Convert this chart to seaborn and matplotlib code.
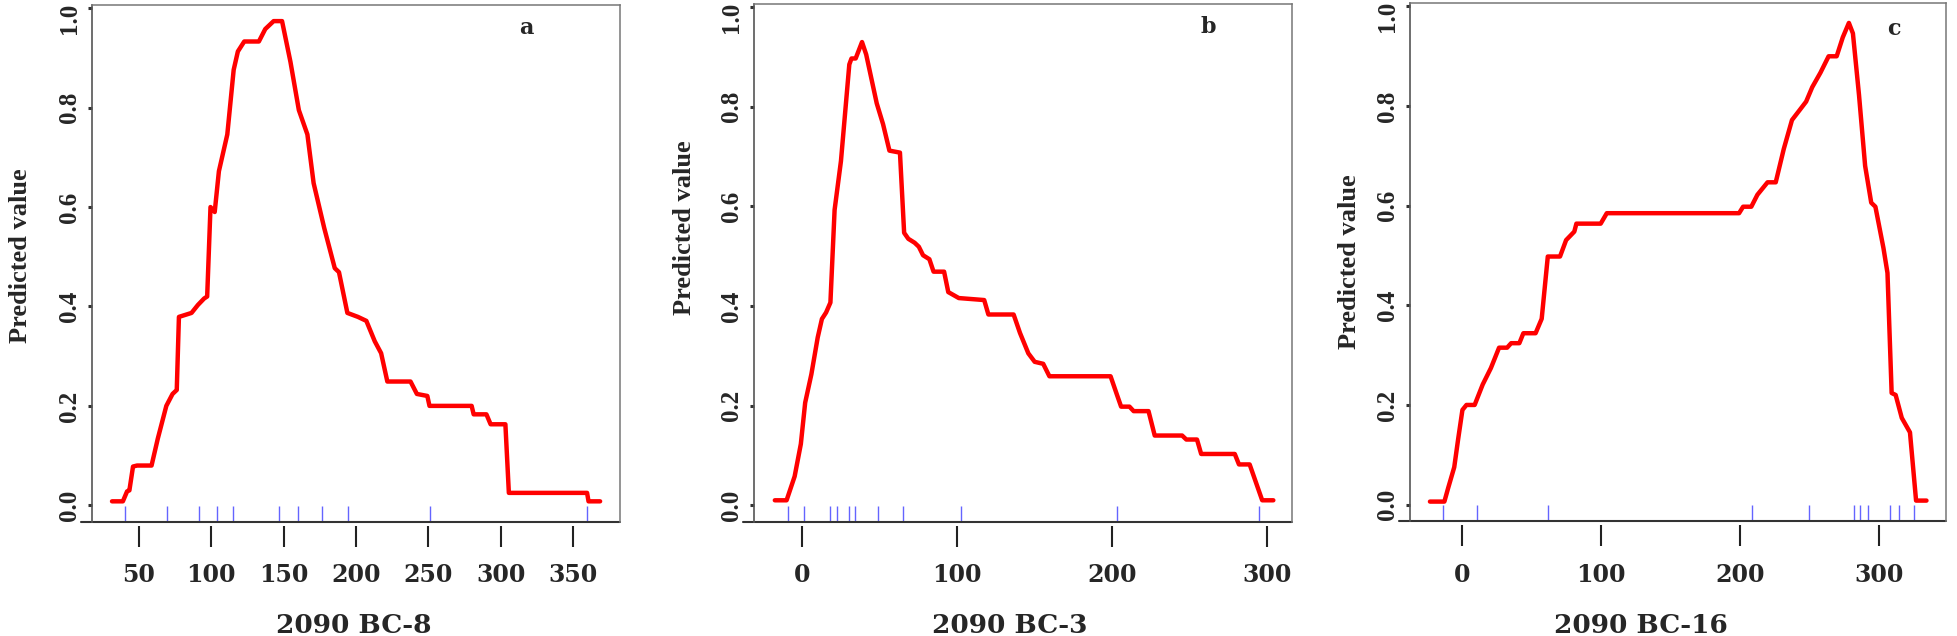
import matplotlib
matplotlib.use("Agg")
import matplotlib.pyplot as plt
import matplotlib.transforms as mtrans
import seaborn as sns

# Grafik uslubi
sns.set_theme(style="white")
plt.rcParams["font.family"] = ["Liberation Serif", "DejaVu Serif"]

# ============================================================
# MA'LUMOTLAR (rasmdan o'qilgan)
# ============================================================
# a) 2090 BC-8
a_x = [31.5, 39, 41.9, 43.5, 46, 48.8, 58.8, 63.1, 69, 73.3, 76.2, 77.7, 86.4, 90.8,
       95.1, 97.2, 99.5, 102.4, 105.3, 111.1, 115.5, 118.4, 122.8, 132.9, 137.3, 143.1,
       148.9, 154.7, 160.5, 166.4, 170.7, 178, 185.3, 188.2, 194, 201.3, 207.1, 212.9,
       217.3, 221.6, 237.6, 242, 249.2, 250.7, 279.8, 281.2, 290, 292.9, 303.1, 305.5,
       359.5, 360.5, 368.5]
a_y = [0.008, 0.008, 0.028, 0.03, 0.078, 0.08, 0.08, 0.134, 0.2, 0.224, 0.232, 0.379,
       0.387, 0.403, 0.416, 0.42, 0.6, 0.59, 0.672, 0.746, 0.876, 0.913, 0.933, 0.933,
       0.958, 0.974, 0.974, 0.892, 0.795, 0.746, 0.648, 0.558, 0.477, 0.469, 0.387,
       0.379, 0.371, 0.33, 0.306, 0.249, 0.249, 0.224, 0.22, 0.2, 0.2, 0.183, 0.183,
       0.163, 0.163, 0.025, 0.025, 0.008, 0.008]
a_rug = [40.7, 69.3, 91.6, 103.8, 115.3, 147, 159.7, 176.3, 194.7, 251.1, 359.5]
a_ticks = [50, 100, 150, 200, 250, 300, 350]

# b) 2090 BC-3
b_x = [-17.6, -10, -4.8, -0.8, 2, 6, 10.1, 12.8, 15.5, 18.3, 21, 25.1, 30.5, 31.9, 34.6,
       38.7, 41.4, 48.2, 52.3, 56.4, 63.2, 65.9, 68.6, 72.7, 75.4, 78.1, 82.2, 84.9,
       91.7, 94.4, 101.2, 117.6, 120.3, 136.6, 140.7, 146.1, 150.2, 155.7, 159.7, 199.2,
       203.3, 206, 211.4, 214.1, 223.7, 227.7, 245.4, 248.1, 255, 257.7, 279.4, 282.1,
       289, 291.7, 297.1, 304.3]
b_y = [0.01, 0.01, 0.058, 0.123, 0.206, 0.263, 0.337, 0.374, 0.387, 0.407, 0.593, 0.691,
       0.885, 0.897, 0.897, 0.93, 0.905, 0.807, 0.765, 0.712, 0.708, 0.547, 0.535, 0.527,
       0.519, 0.502, 0.494, 0.469, 0.469, 0.428, 0.416, 0.412, 0.383, 0.383, 0.346,
       0.305, 0.288, 0.284, 0.259, 0.259, 0.222, 0.198, 0.198, 0.189, 0.189, 0.14, 0.14,
       0.132, 0.132, 0.103, 0.103, 0.082, 0.082, 0.058, 0.01, 0.01]
b_rug = [-9.4, 1.2, 18, 22.3, 30.4, 34.1, 49.2, 65.3, 102.6, 203.2, 295.1]
b_ticks = [0, 100, 200, 300]

# c) 2090 BC-16
c_x = [-23.4, -13, -10.3, -5.9, -3, 0, 2.9, 8.8, 14.6, 20.5, 26.4, 32.2, 35.1, 41, 43.9,
       52.7, 57.1, 61.5, 70.3, 74.7, 80.6, 82.1, 99.6, 104, 199.3, 202.2, 208.1, 212.5,
       219.8, 225.7, 231.5, 237.4, 243.2, 247.6, 252, 257.9, 263.8, 269.6, 274, 278.4,
       281.3, 285.7, 290.1, 294.5, 297.5, 303.3, 306.2, 309.2, 312.1, 316.5, 322.4,
       326.8, 334.3]
c_y = [0.006, 0.006, 0.033, 0.075, 0.133, 0.19, 0.2, 0.2, 0.241, 0.274, 0.315, 0.315,
       0.324, 0.324, 0.344, 0.344, 0.373, 0.498, 0.498, 0.531, 0.548, 0.564, 0.564,
       0.585, 0.585, 0.598, 0.598, 0.622, 0.647, 0.647, 0.714, 0.772, 0.793, 0.809,
       0.838, 0.867, 0.9, 0.9, 0.938, 0.967, 0.946, 0.822, 0.68, 0.606, 0.598, 0.515,
       0.465, 0.224, 0.22, 0.174, 0.145, 0.008, 0.008]
c_rug = [-14.2, 10.3, 61.4, 208.8, 249.9, 282.1, 286.4, 292, 308, 314.3, 325.3]
c_ticks = [0, 100, 200, 300]

y_ticks = [0.0, 0.2, 0.4, 0.6, 0.8, 1.0]
y_labels = ["0.0", "0.2", "0.4", "0.6", "0.8", "1.0"]

# ============================================================
# PANELLAR
# ============================================================
panels = [
    # x, y, rug, ticks, xlim, xlabel, letter, rect, ylabel joyi, xlabel joyi, harf joyi
    (a_x, a_y, a_rug, a_ticks, (17.7, 382.3), "2090 BC-8", "a",
     [0.0470, 0.1797, 0.2697, 0.8129], (-0.114, 0.514), (0.496, -0.177), (0.822, 0.954)),
    (b_x, b_y, b_rug, b_ticks, (-30.9, 316.4), "2090 BC-3", "b",
     [0.3852, 0.1797, 0.2747, 0.8145], (-0.108, 0.568), (0.475, -0.177), (0.844, 0.955)),
    (c_x, c_y, c_rug, c_ticks, (-37.8, 348.4), "2090 BC-16", "c",
     [0.7201, 0.1808, 0.2738, 0.8145], (-0.091, 0.500), (0.431, -0.177), (0.902, 0.950)),
]

fig = plt.figure(figsize=(19.58, 6.36), dpi=100)

for xs, ys, rug, ticks, xlim, xlab, letter, rect, ylpos, xlpos, letpos in panels:
    ax = fig.add_axes(rect)

    sns.lineplot(x=xs, y=ys, ax=ax, color="#ff0000", lw=3.2, sort=False, estimator=None)
    sns.rugplot(x=rug, ax=ax, height=0.031, color="#6464ff", lw=1.5)

    ax.set_xlim(*xlim)
    ax.set_ylim(-0.033, 1.007)

    # pastki chiziq biroz pastga (tick'lar o'qdan ajralgan)
    ax.spines["bottom"].set_position(("outward", 3))
    ax.spines["bottom"].set_color("none")
    ax.plot([-0.02, 1.0], [0, 0], transform=ax.transAxes, color="#333333",
            lw=1.5, clip_on=False)

    # x o'qi
    ax.set_xticks(ticks)
    ax.set_xticklabels([str(t) for t in ticks], fontfamily="DejaVu Serif",
                       fontweight="bold", fontsize=17)
    ax.tick_params(axis="x", bottom=True, direction="out", length=15, width=1.5,
                   color="#222222", pad=12)

    # y o'qi: vertikal yozuvlar
    ax.set_yticks(y_ticks)
    ax.set_yticklabels(y_labels, rotation=90, va="center", fontfamily="Liberation Serif",
                       fontweight="bold", fontsize=18)
    ax.tick_params(axis="y", left=True, direction="out", length=3, width=2.2,
                   color="#333333", pad=5)
    # "1.0" yozuvi chetdan chiqib ketmasin
    top_lab = ax.get_yticklabels()[-1]
    top_lab.set_transform(top_lab.get_transform()
                          + mtrans.ScaledTranslation(0, -0.1, fig.dpi_scale_trans))

    ax.spines["left"].set_color("#555555")
    ax.spines["left"].set_linewidth(1.2)
    for side in ["top", "right"]:
        ax.spines[side].set_color("#777777")
        ax.spines[side].set_linewidth(1.1)

    ax.set_ylabel("Predicted value", fontfamily="Liberation Serif", fontweight="bold",
                  fontsize=19)
    ax.yaxis.set_label_coords(*ylpos)
    ax.set_xlabel(xlab, fontfamily="DejaVu Serif", fontweight="bold", fontsize=19)
    ax.xaxis.set_label_coords(*xlpos)

    ax.text(letpos[0], letpos[1], letter, transform=ax.transAxes, ha="center",
            va="center", fontfamily="DejaVu Serif", fontweight="bold", fontsize=16)

fig.savefig("out.png", dpi=100)
